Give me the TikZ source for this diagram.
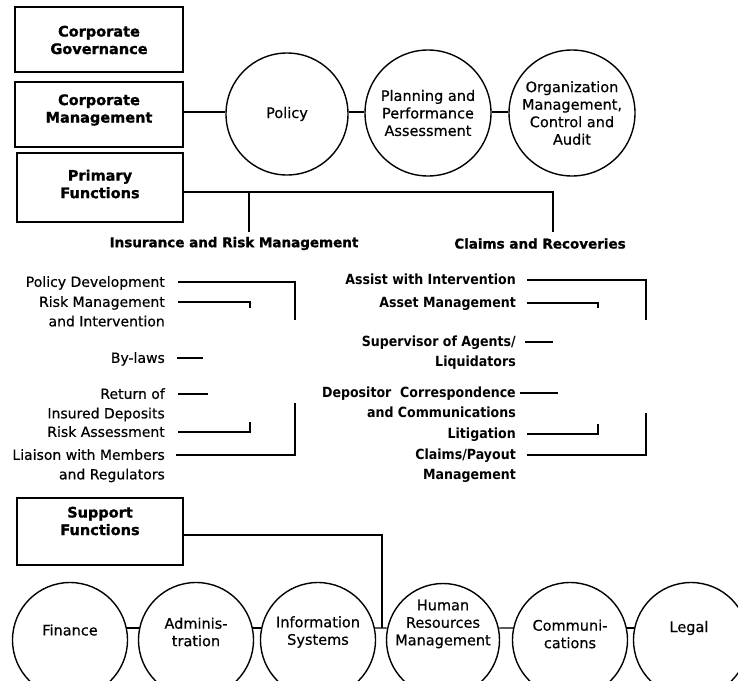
\documentclass[tikz,border=0pt]{standalone}
\usepackage{fontspec}
\setmainfont{DejaVu Sans}
\newfontfamily\condb[FakeStretch=0.9]{DejaVu Sans}
\newfontfamily\heavyf[FakeBold=1.2]{DejaVu Sans}
\newfontfamily\medf[FakeBold=0.5]{DejaVu Sans}
\begin{document}
\begin{tikzpicture}[x=1pt,y=-1pt,
  box/.style={draw, line width=2pt, inner sep=0pt, minimum width=166pt},
  boxtext/.style={font=\heavyf\bfseries\fontsize{14.5}{17.5}\selectfont, align=center, inner sep=0pt},
  circ/.style={draw, circle, line width=1.4pt, inner sep=0pt, minimum size=#1},
  ctext/.style={font=\medf\fontsize{14.5}{17.5}\selectfont, align=center},
  ltext/.style={font=\medf\fontsize{14}{19.5}\selectfont, align=right, inner sep=0pt, anchor=north east},
  rtext/.style={font=\condb\bfseries\fontsize{14}{19.5}\selectfont, align=right, inner sep=0pt, anchor=north east},
  head/.style={font=\heavyf\bfseries\fontsize{13.5}{16}\selectfont, inner sep=0pt},
  conn/.style={line width=1.2pt}]
\useasboundingbox (0,0) rectangle (738,680);
\clip (0,0) rectangle (738,680);

% ---- boxes ----
\node[box, minimum width=168pt, minimum height=65pt] (cg) at (99,39.5) {};
\node[boxtext] (cgT) at (99,40) {Corporate\\Governance};
\node[box, minimum width=168pt, minimum height=65pt] (cm) at (99,114.5) {};
\node[boxtext] (cmT) at (99,110) {Corporate\\Management};
\node[box, minimum height=69pt] (pf) at (100,187.5) {};
\node[boxtext] (pfT) at (100,184) {Primary\\Functions};
\node[box, minimum height=67pt] (sf) at (100,531.5) {};
\node[boxtext] (sfT) at (100,521) {Support\\Functions};

% ---- top circles ----
\node[circ=122pt, ctext] (pol) at (287,114) {Policy};
\node[circ=126pt, ctext] (plan) at (428,113) {Planning and\\Performance\\Assessment};
\node[circ=126pt, ctext] (org) at (572,113) {Organization\\Management,\\Control and\\Audit};

\draw[conn] (cm.east |- 0,112) -- (pol.west |- 0,112);
\draw[conn] (pol.east |- 0,112) -- (plan.west |- 0,112);
\draw[conn] (plan.east |- 0,112) -- (org.west |- 0,112);

% ---- primary functions branches ----
\coordinate (brI) at (249,192);
\coordinate (irJ) at (249,232);
\coordinate (crJ) at (553,232);
\draw[conn] (pf.east |- brI) -| (crJ);
\draw[conn] (brI) -- (irJ);

\node[head] (irm) at (234,243.5) {Insurance and Risk Management};
\node[head] (cr) at (540,243.5) {Claims and Recoveries};

% ---- left list ----
\node[ltext] (pd) at (165,276) {Policy Development};
\node[ltext] (rm) at (165,296) {Risk Management\\and Intervention};
\node[ltext] (bl) at (165,352) {By-laws};
\node[ltext] (ro) at (165,388) {Return of\\Insured Deposits};
\node[ltext] (ra) at (165,426) {Risk Assessment};
\node[ltext] (li) at (165,449) {Liaison with Members\\and Regulators};

\coordinate (pdE) at (295,320);
\coordinate (rmE) at (250,308);
\coordinate (blE) at (203,358);
\coordinate (roE) at (208,394);
\coordinate (raE) at (250,422);
\coordinate (liE) at (295,403);
\draw[conn] ([xshift=13pt,yshift=-6pt]pd.north east) -| (pdE);
\draw[conn] ([xshift=13pt,yshift=-6pt]rm.north east) -| (rmE);
\draw[conn] ([xshift=12pt,yshift=-6pt]bl.north east) -- (blE);
\draw[conn] ([xshift=13pt,yshift=-6pt]ro.north east) -- (roE);
\draw[conn] ([xshift=13pt,yshift=-6pt]ra.north east) -| (raE);
\draw[conn] ([xshift=11pt,yshift=-6pt]li.north east) -| (liE);

% ---- right list ----
\node[rtext] (aw) at (516,274) {Assist with Intervention};
\node[rtext] (am) at (516,297) {Asset Management};
\node[rtext] (sa) at (516,336) {Supervisor of Agents/\\Liquidators};
\node[rtext] (dc) at (516,387) {Depositor\ \ Correspondence\\and Communications};
\node[rtext] (lt) at (516,428) {Litigation};
\node[rtext] (cp) at (516,449) {Claims/Payout\\Management};

\coordinate (awE) at (646,320);
\coordinate (amE) at (598,308);
\coordinate (saE) at (553,342);
\coordinate (dcE) at (558,393);
\coordinate (ltE) at (598,424);
\coordinate (cpE) at (646,413);
\draw[conn] ([xshift=11pt,yshift=-6pt]aw.north east) -| (awE);
\draw[conn] ([xshift=11pt,yshift=-6pt]am.north east) -| (amE);
\draw[conn] ([xshift=9pt,yshift=-6pt]sa.north east) -- (saE);
\draw[conn] ([xshift=4pt,yshift=-6pt]dc.north east) -- (dcE);
\draw[conn] ([xshift=11pt,yshift=-6pt]lt.north east) -| (ltE);
\draw[conn] ([xshift=11pt,yshift=-6pt]cp.north east) -| (cpE);

% ---- support circles ----
\node[circ=115pt] (fin) at (70,640) {};
\node[circ=115pt] (adm) at (196,640) {};
\node[circ=115pt] (inf) at (318,640) {};
\node[circ=113pt] (hr) at (443,640) {};
\node[circ=115pt] (com) at (570,640) {};
\node[circ=115pt] (leg) at (691,640) {};

\node[ctext] (finT) at (70,630) {Finance};
\node[ctext] (admT) at (196,632) {Adminis-\\tration};
\node[ctext] (infT) at (318,632) {Information\\Systems};
\node[ctext] (hrT) at (443,624) {Human\\Resources\\Management};
\node[ctext] (comT) at (570,634) {Communi-\\cations};
\node[ctext] (legT) at (689,628) {Legal};

\draw[conn] (fin.12) -- (adm.168);
\draw[conn] (adm.12) -- (inf.168);
\draw[conn] (inf.12) -- (hr.168);
\draw[conn] (hr.12) -- (com.168);
\draw[conn] (com.12) -- (leg.168);

\coordinate (sJ) at (382,628);
\draw[conn] (sf.east |- 0,535) -| (sJ);
\end{tikzpicture}
\end{document}
